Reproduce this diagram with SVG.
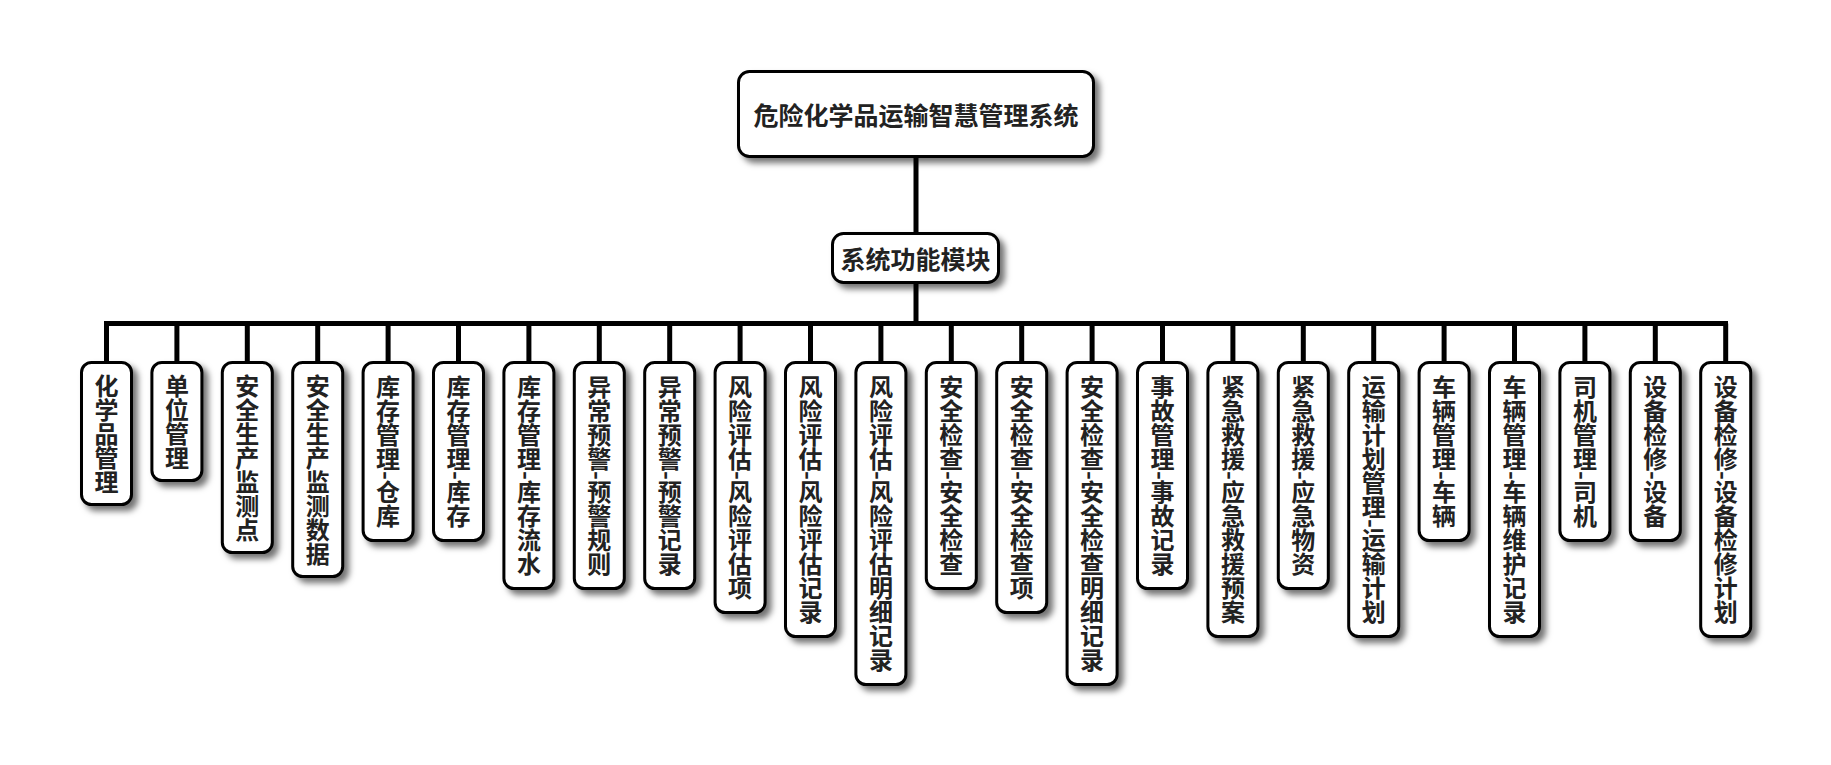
<svg xmlns="http://www.w3.org/2000/svg" width="1831" height="765" viewBox="0 0 1831 765">
<defs>
<filter id="sh" x="-30%" y="-30%" width="160%" height="160%">
<feDropShadow dx="5" dy="5" stdDeviation="3" flood-color="#000" flood-opacity="0.55"/>
</filter>
<style>
.box{fill:#fff;stroke:#000;stroke-width:3;filter:url(#sh)}
.t{font-family:"Noto Sans CJK SC","Noto Sans",sans-serif;font-weight:bold;font-size:25px;fill:#222;text-anchor:middle;dominant-baseline:central}
.v{writing-mode:vertical-rl;font-size:24px}
.ln{stroke:#000;stroke-width:5;fill:none}
</style>
</defs>
<rect width="1831" height="765" fill="#fff"/>
<g id="connectors">
<path class="ln" d="M916 158V232M916 284V323.5M104 323.5H1728"/>
<path class="ln" d="M106.5 323.5V362M176.9 323.5V362M247.3 323.5V362M317.7 323.5V362M388.1 323.5V362M458.5 323.5V362M528.9 323.5V362M599.3 323.5V362M669.7 323.5V362M740.1 323.5V362M810.5 323.5V362M880.9 323.5V362M951.3 323.5V362M1021.7 323.5V362M1092.1 323.5V362M1162.5 323.5V362M1232.9 323.5V362M1303.3 323.5V362M1373.7 323.5V362M1444.1 323.5V362M1514.5 323.5V362M1584.9 323.5V362M1655.3 323.5V362M1725.7 323.5V362"/>
</g>
<g id="root"><rect class="box" x="738.5" y="71.5" width="355" height="85" rx="11"/><text class="t" x="916" y="114">危险化学品运输智慧管理系统</text></g>
<g id="modules"><rect class="box" x="832.5" y="233.5" width="166" height="49" rx="11"/><text class="t" x="915.5" y="258">系统功能模块</text></g>
<g id="n1"><rect class="box" x="81.5" y="362.5" width="50" height="142" rx="10"/><text class="t v" x="106.5" y="433.5">化学品管理</text></g>
<g id="n2"><rect class="box" x="151.9" y="362.5" width="50" height="118" rx="10"/><text class="t v" x="176.9" y="421.5">单位管理</text></g>
<g id="n3"><rect class="box" x="222.3" y="362.5" width="50" height="190" rx="10"/><text class="t v" x="247.3" y="457.5">安全生产监测点</text></g>
<g id="n4"><rect class="box" x="292.7" y="362.5" width="50" height="214" rx="10"/><text class="t v" x="317.7" y="469.5">安全生产监测数据</text></g>
<g id="n5"><rect class="box" x="363.1" y="362.5" width="50" height="178" rx="10"/><text class="t v" x="388.1" y="451.5">库存管理-仓库</text></g>
<g id="n6"><rect class="box" x="433.5" y="362.5" width="50" height="178" rx="10"/><text class="t v" x="458.5" y="451.5">库存管理-库存</text></g>
<g id="n7"><rect class="box" x="503.9" y="362.5" width="50" height="226" rx="10"/><text class="t v" x="528.9" y="475.5">库存管理-库存流水</text></g>
<g id="n8"><rect class="box" x="574.3" y="362.5" width="50" height="226" rx="10"/><text class="t v" x="599.3" y="475.5">异常预警-预警规则</text></g>
<g id="n9"><rect class="box" x="644.7" y="362.5" width="50" height="226" rx="10"/><text class="t v" x="669.7" y="475.5">异常预警-预警记录</text></g>
<g id="n10"><rect class="box" x="715.1" y="362.5" width="50" height="250" rx="10"/><text class="t v" x="740.1" y="487.5">风险评估-风险评估项</text></g>
<g id="n11"><rect class="box" x="785.5" y="362.5" width="50" height="274" rx="10"/><text class="t v" x="810.5" y="499.5">风险评估-风险评估记录</text></g>
<g id="n12"><rect class="box" x="855.9" y="362.5" width="50" height="322" rx="10"/><text class="t v" x="880.9" y="523.5">风险评估-风险评估明细记录</text></g>
<g id="n13"><rect class="box" x="926.3" y="362.5" width="50" height="226" rx="10"/><text class="t v" x="951.3" y="475.5">安全检查-安全检查</text></g>
<g id="n14"><rect class="box" x="996.7" y="362.5" width="50" height="250" rx="10"/><text class="t v" x="1021.7" y="487.5">安全检查-安全检查项</text></g>
<g id="n15"><rect class="box" x="1067.1" y="362.5" width="50" height="322" rx="10"/><text class="t v" x="1092.1" y="523.5">安全检查-安全检查明细记录</text></g>
<g id="n16"><rect class="box" x="1137.5" y="362.5" width="50" height="226" rx="10"/><text class="t v" x="1162.5" y="475.5">事故管理-事故记录</text></g>
<g id="n17"><rect class="box" x="1207.9" y="362.5" width="50" height="274" rx="10"/><text class="t v" x="1232.9" y="499.5">紧急救援-应急救援预案</text></g>
<g id="n18"><rect class="box" x="1278.3" y="362.5" width="50" height="226" rx="10"/><text class="t v" x="1303.3" y="475.5">紧急救援-应急物资</text></g>
<g id="n19"><rect class="box" x="1348.7" y="362.5" width="50" height="274" rx="10"/><text class="t v" x="1373.7" y="499.5">运输计划管理-运输计划</text></g>
<g id="n20"><rect class="box" x="1419.1" y="362.5" width="50" height="178" rx="10"/><text class="t v" x="1444.1" y="451.5">车辆管理-车辆</text></g>
<g id="n21"><rect class="box" x="1489.5" y="362.5" width="50" height="274" rx="10"/><text class="t v" x="1514.5" y="499.5">车辆管理-车辆维护记录</text></g>
<g id="n22"><rect class="box" x="1559.9" y="362.5" width="50" height="178" rx="10"/><text class="t v" x="1584.9" y="451.5">司机管理-司机</text></g>
<g id="n23"><rect class="box" x="1630.3" y="362.5" width="50" height="178" rx="10"/><text class="t v" x="1655.3" y="451.5">设备检修-设备</text></g>
<g id="n24"><rect class="box" x="1700.7" y="362.5" width="50" height="274" rx="10"/><text class="t v" x="1725.7" y="499.5">设备检修-设备检修计划</text></g>
</svg>
